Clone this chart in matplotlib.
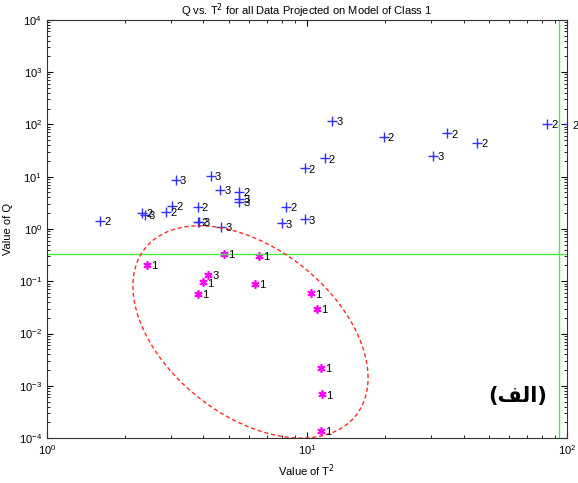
import numpy as np
from matplotlib import pyplot as plt
from matplotlib.ticker import LogLocator, NullFormatter

# class 2 / 3 samples (blue +)
other_t2 = [1.60, 2.32, 2.38, 2.87, 3.03, 3.13, 3.80, 3.80, 3.85, 4.26, 4.63, 4.69,
            5.49, 5.49, 5.49, 8.3, 8.0, 9.8, 9.8, 12.5, 19.7, 34.5, 45.0, 30.6, 83.6, 11.7, 101.0]
other_q = [1.42, 2.05, 1.85, 2.12, 2.76, 8.7, 2.67, 1.36, 1.36, 10.5, 5.6, 1.11,
           5.2, 3.8, 3.3, 2.67, 1.29, 14.5, 1.53, 117, 57.7, 67, 45, 25, 102, 22.5, 100]
other_lab = ['2', '2', '3', '2', '2', '3', '2', '2', '3', '3', '3', '3',
             '2', '3', '3', '2', '3', '2', '3', '3', '2', '2', '2', '3', '2', '2', '2']

# class 1 samples (magenta *)
cls1_t2 = [2.42, 4.81, 6.56, 4.17, 3.97, 3.80, 6.31, 10.4, 10.9, 11.3, 11.4, 11.35]
cls1_q = [0.205, 0.332, 0.304, 0.132, 0.095, 0.057, 0.0886, 0.059, 0.030, 0.0022, 0.00069, 0.000138]
cls1_lab = ['1', '1', '1', '3', '1', '1', '1', '1', '1', '1', '1', '1']

q_limit = 0.33
t2_limit = 93

label_fa = '(الف)'


def shape_alef_lam_feh(s):
    # matplotlib has no arabic shaping: map to presentation forms in visual order
    forms = {'ا': '\uFE8D', 'ل': '\uFEDF', 'ف': '\uFED2'}
    inner = s.strip('()')
    return '(' + ''.join(forms[c] for c in reversed(inner)) + ')'


plt.rcParams['font.family'] = ['Liberation Sans', 'DejaVu Sans']
plt.rcParams['font.size'] = 8

fig = plt.figure(figsize=(5.78, 4.83), dpi=100)
ax = fig.add_axes([0.081, 0.093, 0.900, 0.866])
ax.set_xscale('log')
ax.set_yscale('log')
ax.set_xlim(1, 100)
ax.set_ylim(1e-4, 1e4)

ax.plot(other_t2, other_q, linestyle='none', marker='+', color='#3030ff', markersize=7, mew=1)
for x, y, s in zip(other_t2, other_q, other_lab):
    ax.annotate(s, (x, y), xytext=(3, -1), textcoords='offset points', va='center',
                fontsize=8, annotation_clip=False)

ax.plot(cls1_t2, cls1_q, linestyle='none', marker=(6, 2, 0), color='#ff00ff', markersize=6, mew=1.2)
for x, y, s in zip(cls1_t2, cls1_q, cls1_lab):
    ax.annotate(s, (x, y), xytext=(3, -1), textcoords='offset points', va='center', fontsize=8)

ax.axhline(q_limit, color='#44ee44', linewidth=1)
ax.axvline(t2_limit, color='#44ee44', linewidth=1)

# confidence ellipse drawn in log space
t = np.linspace(0, 2 * np.pi, 300)
cx, cy, sx, sy, rho = 0.783, -1.97, 0.452, 2.03, -0.433
ex = cx + sx * np.cos(t)
ey = cy + sy * (rho * np.cos(t) + np.sqrt(1 - rho ** 2) * np.sin(t))
ax.plot(10 ** ex, 10 ** ey, color='#ff2a2a', linestyle=(0, (3, 2)), linewidth=1)

ax.text(0.905, 0.10, shape_alef_lam_feh(label_fa), transform=ax.transAxes, ha='center', va='center',
        fontsize=15, fontweight='bold', family=['DejaVu Sans'])

ax.set_title(r'Q vs. T$^2$ for all Data Projected on Model of Class 1', fontsize=8, pad=3)
ax.set_xlabel(r'Value of T$^2$', fontsize=8)
ax.set_ylabel('Value of Q', fontsize=8)
ax.set_yticks([10.0 ** k for k in range(-4, 5)])
ax.yaxis.set_minor_locator(LogLocator(base=10, subs=np.arange(2, 10), numticks=100))
ax.yaxis.set_minor_formatter(NullFormatter())
ax.tick_params(which='both', direction='in', top=True, right=True, labelsize=8)
ax.tick_params(which='major', length=4)
ax.tick_params(which='minor', length=2)
for sp in ax.spines.values():
    sp.set_color('#333333')

fig.savefig('out.png', dpi=100)
